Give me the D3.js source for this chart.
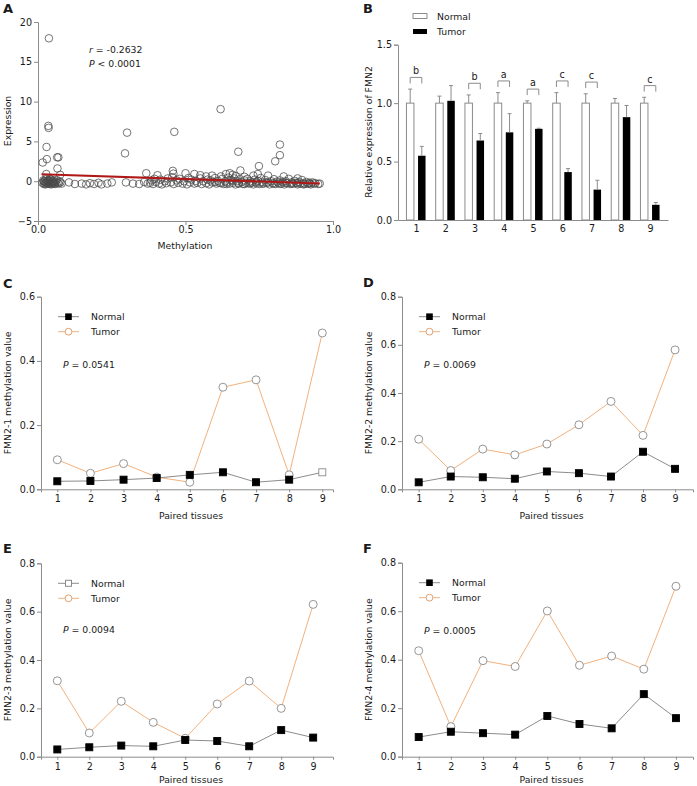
<!DOCTYPE html>
<html><head><meta charset="utf-8">
<script src="https://cdn.jsdelivr.net/npm/d3@7"></script>
<style>
body{margin:0;background:#fff}
svg{display:block}
text{font-family:'DejaVu Sans',Verdana,sans-serif;fill:#1a1a1a}
</style>
</head><body>
<svg id="c" width="697" height="786"></svg>
<script>
// ---------- Panel A data ----------
const methylation = [
 0.037,0.035,0.036,0.029,0.016,0.030,0.065,0.069,0.066,0.075,0.028,0.295,0.302,0.462,0.619,0.679,0.749,0.804,0.820,0.820,0.686,0.833,
 0.367,0.405,0.457,0.459,0.500,0.530,0.550,0.570,0.590,0.620,0.637,0.650,0.660,0.670,0.700,0.730,0.745,0.880,
 0.015,0.018,0.020,0.022,0.024,0.026,0.028,0.030,0.032,0.034,0.036,0.038,0.040,0.042,0.044,0.046,0.048,0.050,0.052,0.055,0.058,0.060,0.063,0.066,0.070,0.073,0.076,0.080,0.020,0.025,0.035,0.045,0.050,0.055,0.030,0.040,
 0.105,0.125,0.148,0.163,0.176,0.190,0.205,0.215,0.235,0.250,
 0.298,0.322,0.343,0.360,0.372,
 0.380,0.385,0.390,0.395,0.400,0.410,0.415,0.420,0.430,0.435,0.440,0.450,0.455,0.460,0.470,0.475,0.480,0.490,0.495,0.505,0.510,0.515,0.520,0.530,0.535,0.540,0.550,0.555,0.560,0.570,0.575,0.580,0.585,0.590,0.600,0.605,0.610,0.615,0.625,0.630,0.635,0.640,0.645,0.650,0.655,0.660,0.665,0.670,0.675,0.680,0.685,0.690,0.695,0.700,0.705,0.710,0.715,0.720,0.725,0.730,0.735,0.740,0.745,0.750,0.755,0.760,0.765,0.770,0.775,0.780,0.785,0.790,0.795,0.800,0.805,0.810,0.815,0.820,0.825,0.830,0.835,0.840,0.845,0.850,0.855,0.860,0.865,0.870,0.875,0.880,0.885,0.890,0.895,0.900,0.905,0.910,0.915,0.920,0.925,0.930,0.935,0.940,0.950,0.955,
 0.600,0.620,0.640,0.660,0.680,0.700,0.720,0.740,0.760,0.780,0.800,0.820,0.840,0.860,0.880,0.900,0.920
];
const expression = [
 17.95,6.95,6.70,4.30,2.35,2.77,3.00,3.00,1.60,0.80,0.90,3.50,6.10,6.20,9.05,3.70,1.90,2.50,3.27,4.60,1.35,0.60,
 1.00,0.75,1.30,0.95,1.00,0.90,0.75,0.60,0.70,0.60,0.90,1.00,0.80,0.65,0.55,0.70,0.90,0.35,
 -0.20,0.10,-0.35,0.00,-0.15,0.25,-0.30,0.05,-0.10,-0.25,0.15,-0.35,0.00,-0.20,0.20,-0.30,-0.05,0.10,-0.25,0.00,-0.35,-0.10,0.15,-0.20,-0.30,0.00,-0.15,-0.30,-0.05,-0.40,0.05,-0.40,-0.15,-0.30,-0.20,0.30,
 -0.15,-0.35,-0.30,-0.40,-0.25,-0.35,-0.20,-0.40,-0.30,-0.15,
 -0.15,-0.30,-0.35,-0.10,-0.30,
 -0.20,0.10,-0.35,0.30,-0.10,-0.30,0.20,-0.40,0.00,-0.25,0.35,-0.15,0.50,-0.35,0.10,-0.20,0.30,-0.30,0.00,-0.40,0.40,-0.15,0.20,-0.30,0.05,-0.20,0.35,-0.35,0.00,-0.25,0.20,-0.40,0.10,-0.15,0.40,-0.30,0.05,-0.20,0.30,-0.35,0.00,-0.15,0.45,-0.30,0.15,-0.20,0.35,-0.40,0.00,-0.25,0.25,-0.10,-0.35,0.10,-0.20,0.30,-0.30,0.00,-0.15,-0.40,0.20,-0.25,0.05,-0.35,0.40,-0.10,-0.30,0.15,-0.20,0.70,-0.40,0.00,-0.25,0.25,-0.35,-0.05,-0.20,0.10,-0.30,-0.10,-0.40,0.00,-0.25,0.30,-0.35,-0.15,-0.30,0.05,-0.20,-0.40,-0.10,-0.30,0.15,-0.25,-0.35,-0.10,-0.30,-0.20,-0.40,-0.15,-0.30,-0.25,-0.35,-0.30,
 -0.10,-0.25,-0.35,0.05,-0.30,-0.35,-0.25,-0.10,-0.30,-0.15,-0.30,-0.35,-0.20,-0.30,-0.25,-0.40,-0.30
];
const fitX = [0.012, 0.955];
const fitY = [0.88, -0.29];
const aXTicks = [0, 0.5, 1.0];
const aYTicks = [-5, 0, 5, 10, 15, 20];
const aStats = ["r = -0.2632", "P < 0.0001"];

// ---------- Panel B data ----------
const pairs = [1,2,3,4,5,6,7,8,9];
const bNormal = [1,1,1,1,1,1,1,1,1];
const bNormalErr = [0.12,0.06,0.07,0.09,0.02,0.09,0.08,0.04,0.05];
const bTumor = [0.55,1.02,0.68,0.75,0.78,0.41,0.26,0.88,0.13];
const bTumorErr = [0.08,0.13,0.06,0.16,0.005,0.03,0.08,0.10,0.02];
const bSig = ["b","","b","a","a","c","c","","c"];
const bYTicks = [0, 0.5, 1.0, 1.5];

// ---------- Panels C-F data ----------
const c1Normal = [0.025,0.026,0.030,0.035,0.045,0.053,0.022,0.030,0.053];
const c1Tumor  = [0.092,0.050,0.080,0.038,0.022,0.318,0.341,0.045,0.487];
const c1NormalHollow = [9];
const c2Normal = [0.029,0.053,0.050,0.044,0.074,0.067,0.053,0.156,0.085];
const c2Tumor  = [0.208,0.078,0.167,0.143,0.188,0.268,0.365,0.224,0.579];
const c3Normal = [0.030,0.039,0.046,0.043,0.069,0.065,0.043,0.110,0.079];
const c3Tumor  = [0.314,0.098,0.229,0.142,0.076,0.218,0.313,0.200,0.630];
const c4Normal = [0.081,0.103,0.097,0.091,0.168,0.135,0.117,0.258,0.159];
const c4Tumor  = [0.437,0.124,0.396,0.372,0.601,0.377,0.415,0.361,0.703];
const cYTicks06 = [0, 0.2, 0.4, 0.6];
const cYTicks08 = [0, 0.2, 0.4, 0.6, 0.8];

const svg = d3.select("#c");
const AX = "#8c8c8c";
const FS = "9.3px";
const TFS = "9.6px";

function styleAxis(g){
  g.selectAll("path,line").attr("stroke", AX).attr("stroke-width", 1);
  g.selectAll("text").style("font-size", TFS).attr("fill", "#1a1a1a");
}
function panelLabel(t, x, y){
  svg.append("text").attr("x", x).attr("y", y).text(t)
    .style("font-size","13px").style("font-weight","bold");
}

// ================= Panel A =================
(function(){
  const x = d3.scaleLinear().domain([0,1]).range([38,333]);
  const y = d3.scaleLinear().domain([-5,20]).range([221,22]);
  const g = svg.append("g");
  g.append("g").attr("transform","translate(0,221)")
    .call(d3.axisBottom(x).tickValues(aXTicks).tickFormat(d3.format(".1f")).tickSize(4).tickPadding(1))
    .call(styleAxis);
  g.append("g").attr("transform","translate(38,0)")
    .call(d3.axisLeft(y).tickValues(aYTicks).tickSize(4).tickPadding(2))
    .call(styleAxis);
  g.selectAll("circle.pt").data(methylation).join("circle").attr("class","pt")
    .attr("cx",(d)=>x(d)).attr("cy",(d,i)=>y(expression[i])).attr("r",3.8)
    .attr("fill","none").attr("stroke","#4a4a4a").attr("stroke-width",0.9).attr("stroke-opacity",0.85);
  g.append("line").attr("x1",x(fitX[0])).attr("y1",y(fitY[0])).attr("x2",x(fitX[1])).attr("y2",y(fitY[1]))
    .attr("stroke","#b01818").attr("stroke-width",2);
  const t1 = g.append("text").attr("x",89).attr("y",53).style("font-size",FS);
  t1.append("tspan").style("font-style","italic").text("r");
  t1.append("tspan").text(aStats[0].slice(1));
  const t2 = g.append("text").attr("x",89).attr("y",67).style("font-size",FS);
  t2.append("tspan").style("font-style","italic").text("P");
  t2.append("tspan").text(aStats[1].slice(1));
  g.append("text").attr("x",185).attr("y",249).attr("text-anchor","middle").style("font-size",FS).text("Methylation");
  g.append("text").attr("transform","translate(11,121) rotate(-90)").attr("text-anchor","middle").style("font-size",FS).text("Expression");
  panelLabel("A",3,13);
})();

// ================= Panel B =================
(function(){
  const x = d3.scaleLinear().domain([0.385,9.615]).range([398,668]);
  const y = d3.scaleLinear().domain([0,1.5]).range([220,44.7]);
  const g = svg.append("g");
  const bw = 7.5, off = 5.8;
  g.selectAll("rect.n").data(pairs).join("rect").attr("class","n")
    .attr("x",d=>x(d)-off-bw/2).attr("y",(d,i)=>y(bNormal[i])).attr("width",bw)
    .attr("height",(d,i)=>y(0)-y(bNormal[i])).attr("fill","#fff").attr("stroke","#8c8c8c").attr("stroke-width",1);
  g.selectAll("rect.t").data(pairs).join("rect").attr("class","t")
    .attr("x",d=>x(d)+off-bw/2).attr("y",(d,i)=>y(bTumor[i])).attr("width",bw)
    .attr("height",(d,i)=>y(0)-y(bTumor[i])).attr("fill","#000");
  function eb(cls, vals, errs, dx){
    const s = g.selectAll("g."+cls).data(pairs).join("g").attr("class",cls);
    s.append("line").attr("x1",d=>x(d)+dx).attr("x2",d=>x(d)+dx)
      .attr("y1",(d,i)=>y(vals[i])).attr("y2",(d,i)=>y(vals[i]+errs[i])).attr("stroke","#8c8c8c");
    s.append("line").attr("x1",d=>x(d)+dx-2).attr("x2",d=>x(d)+dx+2)
      .attr("y1",(d,i)=>y(vals[i]+errs[i])).attr("y2",(d,i)=>y(vals[i]+errs[i])).attr("stroke","#8c8c8c");
  }
  eb("en", bNormal, bNormalErr, -off);
  eb("et", bTumor, bTumorErr, off);
  pairs.forEach((d,i)=>{
    if(!bSig[i]) return;
    const top = Math.max(bNormal[i]+bNormalErr[i], bTumor[i]+bTumorErr[i]) + 0.1;
    const yy = y(top), x1 = x(d)-off, x2 = x(d)+off;
    g.append("path").attr("d",`M${x1},${yy+6}V${yy}H${x2}V${yy+6}`)
      .attr("fill","none").attr("stroke","#8c8c8c");
    g.append("text").attr("x",x(d)).attr("y",yy-3).attr("text-anchor","middle").style("font-size",TFS).text(bSig[i]);
  });
  g.append("g").attr("transform","translate(0,220)")
    .call(d3.axisBottom(x).tickValues(pairs).tickSize(0).tickPadding(5))
    .call(styleAxis);
  g.append("g").attr("transform","translate(398,0)")
    .call(d3.axisLeft(y).tickValues(bYTicks).tickFormat(d3.format(".1f")).tickSize(4).tickPadding(2))
    .call(styleAxis);
  g.append("text").attr("transform","translate(372,132) rotate(-90)").attr("text-anchor","middle").style("font-size",FS).text("Relative expression of FMN2");
  g.append("rect").attr("x",413).attr("y",13.5).attr("width",14).attr("height",5).attr("fill","#fff").attr("stroke","#8c8c8c");
  g.append("rect").attr("x",413).attr("y",29).attr("width",14).attr("height",5).attr("fill","#000");
  g.append("text").attr("x",437).attr("y",19.5).style("font-size",FS).text("Normal");
  g.append("text").attr("x",437).attr("y",35).style("font-size",FS).text("Tumor");
  panelLabel("B",363,13);
})();

// ================= Panels C-F =================
function linePanel(o){
  const x = d3.scaleLinear().domain(o.xd).range([o.left,o.right]);
  const y = d3.scaleLinear().domain([0,o.ymax]).range([o.bottom,o.top]);
  const g = svg.append("g");
  g.append("g").attr("transform",`translate(0,${o.bottom})`)
    .call(d3.axisBottom(x).tickValues(pairs).tickSize(3).tickPadding(3))
    .call(styleAxis);
  g.append("g").attr("transform",`translate(${o.left},0)`)
    .call(d3.axisLeft(y).tickValues(o.yt).tickFormat(d3.format(".1f")).tickSize(4).tickPadding(2))
    .call(styleAxis);
  const line = d3.line().x((d,i)=>x(pairs[i])).y(d=>y(d));
  g.append("path").datum(o.tumor).attr("d",line).attr("fill","none").attr("stroke","#f2b27e").attr("stroke-width",1);
  g.append("path").datum(o.normal).attr("d",line).attr("fill","none").attr("stroke","#8c8c8c").attr("stroke-width",1);
  g.selectAll("circle.tu").data(o.tumor).join("circle").attr("class","tu")
    .attr("cx",(d,i)=>x(pairs[i])).attr("cy",d=>y(d)).attr("r",4)
    .attr("fill","#fff").attr("stroke","#8a8a8a").attr("stroke-width",0.9);
  const s = 7;
  g.selectAll("rect.no").data(o.normal).join("rect").attr("class","no")
    .attr("x",(d,i)=>x(pairs[i])-s/2).attr("y",d=>y(d)-s/2).attr("width",s).attr("height",s)
    .attr("fill",(d,i)=>(o.hollow||[]).includes(pairs[i])?"#fff":"#000")
    .attr("stroke",(d,i)=>(o.hollow||[]).includes(pairs[i])?"#8a8a8a":"#000").attr("stroke-width",0.9);
  const lx = o.left+17, ly1 = o.top+20, ly2 = o.top+35;
  g.append("line").attr("x1",lx).attr("x2",lx+21).attr("y1",ly1).attr("y2",ly1).attr("stroke","#8c8c8c");
  if(o.legHollow){
    g.append("rect").attr("x",lx+10.5-3).attr("y",ly1-3).attr("width",6).attr("height",6).attr("fill","#fff").attr("stroke","#8a8a8a");
  } else {
    g.append("rect").attr("x",lx+10.5-3.3).attr("y",ly1-3.3).attr("width",6.6).attr("height",6.6).attr("fill","#000");
  }
  g.append("line").attr("x1",lx).attr("x2",lx+21).attr("y1",ly2).attr("y2",ly2).attr("stroke","#f2b27e");
  g.append("circle").attr("cx",lx+10.5).attr("cy",ly2).attr("r",3.4).attr("fill","#fff").attr("stroke","#e0a070");
  g.append("text").attr("x",lx+33).attr("y",ly1+3.5).style("font-size",FS).text("Normal");
  g.append("text").attr("x",lx+33).attr("y",ly2+3.5).style("font-size",FS).text("Tumor");
  const pt = g.append("text").attr("x",o.left+22).attr("y",o.pY).style("font-size",FS);
  pt.append("tspan").style("font-style","italic").text("P");
  pt.append("tspan").text(" = " + o.p);
  g.append("text").attr("x",(o.left+o.right)/2+4).attr("y",o.bottom+o.titleGap).attr("text-anchor","middle").style("font-size",FS).text("Paired tissues");
  g.append("text").attr("transform",`translate(${o.left-30},${(o.top+o.bottom)/2}) rotate(-90)`).attr("text-anchor","middle").style("font-size",FS).text(o.ylab);
  panelLabel(o.label,o.lblX,o.lblY);
}

linePanel({label:"C",lblX:3,lblY:288,left:41,right:333,top:296.7,bottom:489.3,ymax:0.6,yt:cYTicks06,
  xd:[0.508,9.323],normal:c1Normal,tumor:c1Tumor,hollow:c1NormalHollow,p:"0.0541",pY:368,titleGap:30,ylab:"FMN2-1 methylation value"});
linePanel({label:"D",lblX:363,lblY:287,left:402,right:693,top:296.7,bottom:489.3,ymax:0.8,yt:cYTicks08,
  xd:[0.479,9.56],normal:c2Normal,tumor:c2Tumor,p:"0.0069",pY:368,titleGap:30,ylab:"FMN2-2 methylation value"});
linePanel({label:"E",lblX:3,lblY:553,left:41,right:333,top:563.3,bottom:756.7,ymax:0.8,yt:cYTicks08,
  xd:[0.49,9.62],normal:c3Normal,tumor:c3Tumor,legHollow:true,p:"0.0094",pY:633,titleGap:26,ylab:"FMN2-3 methylation value"});
linePanel({label:"F",lblX:363,lblY:553,left:402,right:693,top:562.7,bottom:756.7,ymax:0.8,yt:cYTicks08,
  xd:[0.481,9.53],normal:c4Normal,tumor:c4Tumor,p:"0.0005",pY:634,titleGap:26,ylab:"FMN2-4 methylation value"});
</script>
</body></html>
